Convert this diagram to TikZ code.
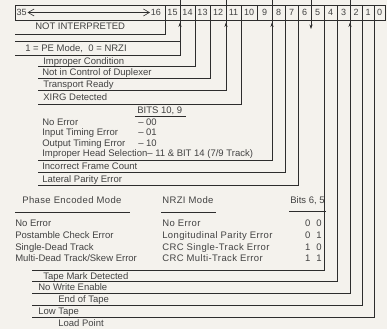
\documentclass[tikz,border=0pt]{standalone}
\usepackage{fontspec}
\setmainfont{Liberation Sans}
\usetikzlibrary{arrows,arrows.meta,positioning}
\definecolor{paper}{RGB}{244,242,237}
\definecolor{ink}{RGB}{45,45,45}
\tikzset{
    %Define standard arrow tip
    >={Stealth[length=4.5pt,width=3.2pt]},
    %Define style for the bit cells
    cell/.style={
           rectangle,
           draw=ink,
           minimum height=15pt,
           inner sep=0pt,
           outer sep=0pt,
           font=\fontsize{9}{10}\selectfont,
           text=ink!90,
           },
    % Define style for the texts
    lbl/.style={
           anchor=base west,
           inner sep=0pt,
           font=\fontsize{9.5}{11}\selectfont,
           text=ink!90,
           },
    % letter spaced texts
    wide/.style={
           lbl,
           font=\fontsize{9.5}{11}\selectfont\addfontfeature{LetterSpace=4},
           },
    % Define leader style
    lead/.style={
           draw=ink,
           line width=0.6pt,}
}
\begin{document}
\begin{tikzpicture}[x=1pt,y=-1pt,line width=0.6pt,ink]
\fill[paper] (0,0) rectangle (387,329);
\useasboundingbox (0,0) rectangle (387,329);
% bit cells
\node[cell, minimum width=150pt, anchor=north west](c35) at (15,5){};
\node[cell, minimum width=15pt, right=0pt of c35](c15){15};
\node[cell, minimum width=15pt, right=0pt of c15](c14){14};
\node[cell, minimum width=15pt, right=0pt of c14](c13){13};
\node[cell, minimum width=16pt, right=0pt of c13](c12){12};
\node[cell, minimum width=15pt, right=0pt of c12](c11){11};
\node[cell, minimum width=16pt, right=0pt of c11](c10){10};
\node[cell, minimum width=15pt, right=0pt of c10](c9){9};
\node[cell, minimum width=13pt, right=0pt of c9](c8){8};
\node[cell, minimum width=13pt, right=0pt of c8](c7){7};
\node[cell, minimum width=13pt, right=0pt of c7](c6){6};
\node[cell, minimum width=13pt, right=0pt of c6](c5){5};
\node[cell, minimum width=13pt, right=0pt of c5](c4){4};
\node[cell, minimum width=13pt, right=0pt of c4](c3){3};
\node[cell, minimum width=12pt, right=0pt of c3](c2){2};
\node[cell, minimum width=12pt, right=0pt of c2](c1){1};
\node[cell, minimum width=11pt, right=0pt of c1](c0){0};
\node[cell, draw=none, anchor=west](n35) at ([xshift=1.5pt]c35.west){35};
\node[cell, draw=none, anchor=east](n16) at ([xshift=-4pt]c35.east){16};
\draw[{Straight Barb[length=6pt,width=7pt]}-{Straight Barb[length=6pt,width=7pt]}]
  ([xshift=1pt]n35.east) -- ([xshift=-1pt]n16.west);

% end points of the leaders
\coordinate (e35) at (15,34);
\coordinate (e15) at (15,55);
\coordinate (e14) at (38,66);
\coordinate (e13) at (38,78);
\coordinate (e12) at (38,90);
\coordinate (e11) at (38,104);
\coordinate (e9) at (38,160);
\coordinate (e8) at (38,172);
\coordinate (e7) at (38,185);
\coordinate (e5) at (32,270);
\coordinate (e4) at (32,281.5);
\coordinate (e3) at (32,293);
\coordinate (e2) at (32,305);
\coordinate (e1) at (32,317.5);

% leaders
\draw[lead] (c35.south east) |- (e35);
\draw[lead] ([yshift=5pt]c15.north east) |- (e15);
\draw[lead] (15,41) -- (c15.east |- 0,41);
\draw[lead] (c14.south east) |- (e14);
\draw[lead] (c13.south east) |- (e13);
\draw[lead] ([yshift=5pt]c12.north east) |- (e12);
\draw[lead] (c11.south east) |- (e11);
\draw[lead] ([yshift=5pt]c9.north east) |- (e9);
\draw[lead] (c8.south east) |- (e8);
\draw[lead] (c7.south east) |- (e7);
\draw[lead] (c5.south east) |- (e5);
\draw[lead] (c4.south east) |- (e4);
\draw[lead] ([yshift=5pt]c3.north east) |- (e3);
\draw[lead] (c2.south east) |- (e2);
\draw[lead] (c1.south east) |- (e1);
\draw[lead,->] ([yshift=5pt]c6.north east) -- ([yshift=-9pt]c6.south east);

% arrow tips under the cells
\draw[->] ([yshift=-8pt]c15.south east) -- ([yshift=-2.5pt]c15.south east);
\draw[->] ([yshift=-8pt]c12.south east) -- ([yshift=-2.5pt]c12.south east);
\draw[->] ([yshift=-8pt]c9.south east) -- ([yshift=-2.5pt]c9.south east);
\draw[->] ([yshift=-8pt]c3.south east) -- ([yshift=-2.5pt]c3.south east);

% labels
\node[lbl](ni) at (35,30){NOT INTERPRETED};
\node[lbl](pe) at (25,51.5){1 = PE Mode,\ \ 0 = NRZI};
\node[lbl](ic) at (43,64){Improper Condition};
\node[lbl](nc) at (42,75.5){Not in Control of Duplexer};
\node[lbl](tr) at (43,87.5){Transport Ready};
\node[lbl](xd) at (43,100.5){XIRG Detected};

\node[lbl](b109) at (137,113.5){BITS 10, 9};
\draw ([xshift=-2pt,yshift=-3pt]b109.base west) -- ([xshift=4pt,yshift=-3pt]b109.base east);
\node[lbl](ne) at (42,125){No Error};
\node[lbl](ite) at (42,135.5){Input Timing Error};
\node[lbl](ote) at (42,146){Output Timing Error};
\node[lbl](ihs) at (42,156.5){Improper Head Selection-- 11 \& BIT 14 (7/9 Track)};
\node[lbl] at (138,125){-- 00};
\node[lbl] at (138,135.5){-- 01};
\node[lbl] at (138,146){-- 10};
\node[lbl](ifc) at (42,169.5){Incorrect Frame Count};
\node[lbl](lpe) at (42,182.5){Lateral Parity Error};

\node[wide](pem) at (22,203.5){Phase Encoded Mode};
\node[wide](nrm) at (162,203.5){NRZI Mode};
\node[lbl](b65) at (290,203.5){Bits 6, 5};
\draw (15,212) -- ([xshift=8pt,yshift=-8.5pt]pem.base east);
\draw ([xshift=-1pt,yshift=-8.5pt]nrm.base west) -- ([xshift=2pt,yshift=-8.5pt]nrm.base east);
\draw ([xshift=-1pt,yshift=-8pt]b65.base west) -- ([xshift=1pt,yshift=-8pt]b65.base east);
\node[lbl] at (15,226){No Error};
\node[lbl] at (15,238.5){Postamble Check Error};
\node[lbl] at (15,250.5){Single-Dead Track};
\node[lbl] at (15,261.5){Multi-Dead Track/Skew Error};
\node[wide] at (162,226){No Error};
\node[wide] at (162,238.5){Longitudinal Parity Error};
\node[wide] at (162,250.5){CRC Single-Track Error};
\node[wide] at (162,261.5){CRC Multi-Track Error};
\node[lbl,anchor=base east] at (322,226){0\hspace{6pt}0};
\node[lbl,anchor=base east] at (322,238.5){0\hspace{6pt}1};
\node[lbl,anchor=base east] at (322,250.5){1\hspace{6pt}0};
\node[lbl,anchor=base east] at (322,261.5){1\hspace{6pt}1};

\node[lbl](tmd) at (43,279){Tape Mark Detected};
\node[lbl](nwe) at (38,290.5){No Write Enable};
\node[lbl](eot) at (58,302.5){End of Tape};
\node[lbl](lt) at (38,314.5){Low Tape};
\node[lbl](lp) at (58,326.5){Load Point};
\end{tikzpicture}
\end{document}
